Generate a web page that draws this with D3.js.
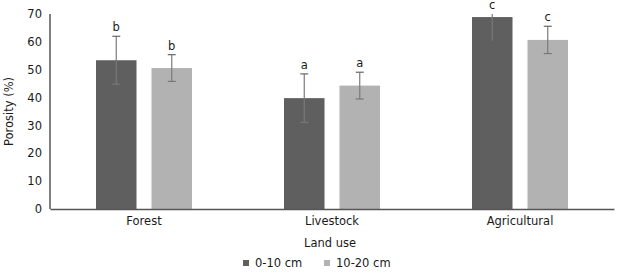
<!DOCTYPE html>
<html>
<head>
<meta charset="utf-8">
<script src="https://cdn.jsdelivr.net/npm/d3@7"></script>
<style>
  body { margin: 0; background: #fff; }
  text { font-family: "DejaVu Sans", Verdana, sans-serif; fill: #1a1a1a; }
  .axis text { font-size: 11.5px; }
  .axis path { stroke: #555; stroke-width: 1.5; }
</style>
</head>
<body>
<div id="chart"></div>
<script>
// Land use categories and two soil depths
const categories = ["Forest", "Livestock", "Agricultural"];
const seriesNames = ["0-10 cm", "10-20 cm"];
const depth1 = [53.4, 39.8, 68.9];      // 0-10 cm porosity (%)
const depth1Err = [8.6, 8.7, 8.5];
const depth2 = [50.6, 44.3, 60.7];      // 10-20 cm
const depth2Err = [4.8, 4.8, 4.9];
const letters1 = ["b", "a", "c"];
const letters2 = ["b", "a", "c"];
const yTicks = [0, 10, 20, 30, 40, 50, 60, 70];

const COLOR = ["#5f5f5f", "#b2b2b2"];

const margin = { top: 14, right: 6, bottom: 70, left: 50 };
const W = 620, H = 279;
const width = W - margin.left - margin.right;
const height = H - margin.top - margin.bottom;

const svg = d3.select("#chart").append("svg")
  .attr("width", W).attr("height", H);
const g = svg.append("g").attr("transform", `translate(${margin.left},${margin.top})`);

const x = d3.scaleBand().domain(categories).range([0, width]).padding(0);
const inner = d3.scaleBand().domain(seriesNames).range([46, 142]).paddingInner(0.27);
const y = d3.scaleLinear().domain([0, 70]).range([height, 0]);

const rows = categories.map((c, i) => ({
  cat: c,
  vals: [
    { s: seriesNames[0], v: depth1[i], e: depth1Err[i], l: letters1[i], c: COLOR[0] },
    { s: seriesNames[1], v: depth2[i], e: depth2Err[i], l: letters2[i], c: COLOR[1] }
  ]
}));

// bars
const grp = g.selectAll(".grp").data(rows).join("g")
  .attr("transform", d => `translate(${x(d.cat)},0)`);

grp.selectAll("rect").data(d => d.vals).join("rect")
  .attr("x", d => inner(d.s))
  .attr("width", inner.bandwidth())
  .attr("y", d => y(d.v))
  .attr("height", d => y(0) - y(d.v))
  .attr("fill", d => d.c);

// error bars (clipped at the top of the axis like the original)
const eb = grp.selectAll(".eb").data(d => d.vals).join("g").attr("class", "eb");
const cx = d => inner(d.s) + inner.bandwidth() / 2;
const hiV = d => Math.min(d.v + d.e, 70);
eb.append("line")
  .attr("x1", cx).attr("x2", cx)
  .attr("y1", d => y(d.v - d.e)).attr("y2", d => y(hiV(d)))
  .attr("stroke", "#7a7a7a").attr("stroke-width", 1.2);
eb.filter(d => d.v + d.e <= 70).append("line")
  .attr("x1", d => cx(d) - 4).attr("x2", d => cx(d) + 4)
  .attr("y1", d => y(d.v + d.e)).attr("y2", d => y(d.v + d.e))
  .attr("stroke", "#666").attr("stroke-width", 1.2);
eb.filter(d => d.v + d.e <= 70).append("line")
  .attr("x1", d => cx(d) - 4).attr("x2", d => cx(d) + 4)
  .attr("y1", d => y(d.v - d.e)).attr("y2", d => y(d.v - d.e))
  .attr("stroke", "#777").attr("stroke-width", 1.2);

// significance letters
eb.append("text")
  .attr("x", cx)
  .attr("y", d => y(hiV(d)) - 5)
  .attr("text-anchor", "middle")
  .style("font-size", "11.5px")
  .text(d => d.l);

// axes
g.append("g").attr("class", "axis")
  .call(d3.axisLeft(y).tickValues(yTicks).tickSize(0).tickPadding(8))
  .call(a => a.select(".domain").attr("d", `M0,${y(70)}V${y(0)}`));

g.append("g").attr("class", "axis")
  .attr("transform", `translate(0,${height})`)
  .call(d3.axisBottom(x).tickSize(0).tickPadding(8));

// axis titles
svg.append("text")
  .attr("transform", `translate(13,${margin.top + height / 2}) rotate(-90)`)
  .attr("text-anchor", "middle")
  .style("font-size", "11.5px")
  .text("Porosity (%)");

svg.append("text")
  .attr("x", margin.left + x("Livestock") + x.bandwidth() / 2 - 2)
  .attr("y", 247)
  .attr("text-anchor", "middle")
  .style("font-size", "11.5px")
  .text("Land use");

// legend
const legend = svg.append("g").attr("transform", "translate(243,267)");
const li = legend.selectAll("g").data(seriesNames).join("g")
  .attr("transform", (d, i) => `translate(${i * 81},0)`);
li.append("rect").attr("x", 0).attr("y", -7).attr("width", 6).attr("height", 6)
  .attr("fill", (d, i) => COLOR[i]);
li.append("text").attr("x", 12).attr("y", 0)
  .style("font-size", "11.5px")
  .text(d => d);
</script>
</body>
</html>
